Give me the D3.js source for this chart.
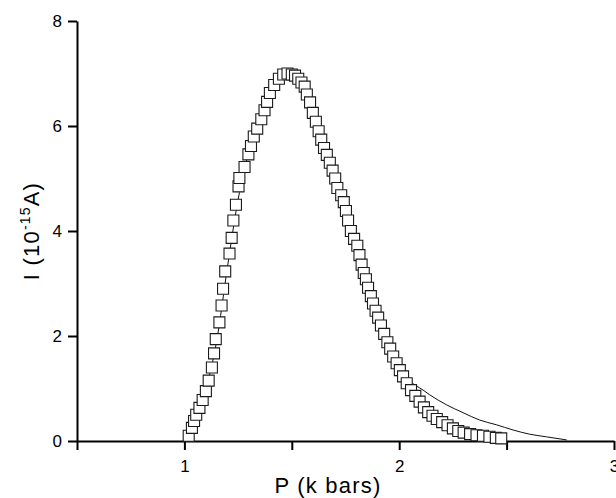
<!DOCTYPE html>
<html>
<head>
<meta charset="utf-8">
<script src="https://cdn.jsdelivr.net/npm/d3@7"></script>
<style>
  html, body { margin: 0; padding: 0; background: #fff; }
  svg { display: block; }
  text { font-family: "Liberation Sans", Arial, Helvetica, sans-serif; fill: #000; }
</style>
</head>
<body>
<svg id="chart" width="616" height="498"></svg>
<script>
// Measured data: pressure P (k bars) and current I (10^-15 A)
const pData = [1.02,1.035,1.045,1.055,1.07,1.085,1.10,1.113,1.128,1.138,1.146,1.163,1.173,1.18,1.19,1.21,1.22,1.228,1.24,1.252,1.256,1.28,1.298,1.31,1.323,1.339,1.358,1.373,1.385,1.398,1.418,1.44,1.46,1.48,1.50,1.515,1.53,1.545,1.56,1.57,1.585,1.598,1.612,1.625,1.637,1.65,1.663,1.677,1.69,1.702,1.712,1.73,1.742,1.752,1.762,1.775,1.79,1.805,1.815,1.825,1.835,1.845,1.855,1.868,1.878,1.89,1.902,1.915,1.93,1.945,1.958,1.972,1.988,2.003,2.018,2.035,2.055,2.075,2.095,2.115,2.135,2.155,2.175,2.20,2.225,2.25,2.275,2.30,2.33,2.36,2.39,2.42,2.45,2.475];
const iData = [0.10,0.25,0.38,0.50,0.63,0.78,0.95,1.15,1.40,1.67,1.94,2.26,2.58,2.90,3.23,3.57,3.87,4.20,4.50,4.85,5.01,5.22,5.46,5.62,5.80,5.95,6.13,6.30,6.46,6.63,6.78,6.90,6.98,7.00,6.98,6.96,6.90,6.83,6.75,6.60,6.45,6.25,6.08,5.90,5.74,5.58,5.45,5.30,5.15,5.00,4.82,4.68,4.55,4.38,4.20,4.00,3.85,3.72,3.54,3.36,3.20,3.08,2.92,2.76,2.62,2.48,2.35,2.20,2.04,1.88,1.76,1.61,1.48,1.35,1.23,1.10,0.97,0.86,0.75,0.64,0.55,0.48,0.42,0.36,0.30,0.24,0.19,0.16,0.13,0.11,0.10,0.08,0.06,0.05];

// Fitted curve (thin line)
const pFit = [1.0,1.03,1.06,1.10,1.15,1.20,1.25,1.30,1.35,1.40,1.45,1.50,1.55,1.60,1.65,1.70,1.75,1.80,1.85,1.90,1.95,2.00,2.05,2.111,2.142,2.22,2.297,2.374,2.452,2.53,2.607,2.685,2.78];
const iFit = [0.0,0.2,0.55,1.0,1.9,3.3,4.6,5.5,6.1,6.6,6.9,7.0,6.85,6.3,5.6,5.0,4.4,3.8,3.0,2.4,1.85,1.45,1.15,0.97,0.88,0.69,0.54,0.40,0.31,0.21,0.13,0.08,0.02];

// Axis ticks
const xTicks = [0.5,1,1.5,2,2.5,3];
const xTickLabels = {1:"1",2:"2",3:"3"};
const yTicks = [0,2,4,6,8];

const svg = d3.select("#chart");
const x = d3.scaleLinear().domain([0.5, 3]).range([77, 614]);
const y = d3.scaleLinear().domain([0, 8]).range([441, 21]);

// fit line
const fit = pFit.map((p,i)=>[p,iFit[i]]);
svg.append("path")
  .datum(fit)
  .attr("fill","none")
  .attr("stroke","#111")
  .attr("stroke-width",1)
  .attr("d", d3.line().x(d=>x(d[0])).y(d=>y(d[1])).curve(d3.curveMonotoneX));

// axes
const xAxis = d3.axisBottom(x).tickValues(xTicks)
  .tickFormat(d => xTickLabels[d] || "")
  .tickSize(9).tickSizeOuter(0).tickPadding(10);
const yAxis = d3.axisLeft(y).tickValues(yTicks)
  .tickFormat(d3.format("d"))
  .tickSize(9).tickSizeOuter(0).tickPadding(6);

const gx = svg.append("g").attr("transform","translate(0,441)").call(xAxis);
const gy = svg.append("g").attr("transform","translate(77,0)").call(yAxis);
[gx, gy].forEach(g => {
  g.select(".domain").attr("stroke","#000").attr("stroke-width",2);
  g.selectAll(".tick line").attr("stroke","#000").attr("stroke-width",2);
  g.selectAll(".tick text").attr("font-size",17).attr("font-family","Liberation Sans, Arial, sans-serif").attr("fill","#000");
});

// data squares
const pts = pData.map((p,i)=>[p,iData[i]]);
svg.append("g").selectAll("path")
  .data(pts)
  .join("path")
  .attr("d", d3.symbol(d3.symbolSquare, 121)())
  .attr("transform", d => `translate(${x(d[0])},${y(d[1])})`)
  .attr("fill","#fff")
  .attr("stroke","#1a1a1a")
  .attr("stroke-width",1.1);

// axis titles
svg.append("text")
  .attr("x", 328).attr("y", 493)
  .attr("text-anchor","middle")
  .attr("font-size",22)
  .attr("letter-spacing","1.2px")
  .text("P (k bars)");

const yt = svg.append("text")
  .attr("transform","translate(39,231) rotate(-90)")
  .attr("text-anchor","middle")
  .attr("font-size",22)
  .attr("letter-spacing","1.2px");
yt.append("tspan").text("I (10");
yt.append("tspan").attr("dy",-9).attr("font-size",14).text("-15");
yt.append("tspan").attr("dy",9).text("A)");
</script>
</body>
</html>
